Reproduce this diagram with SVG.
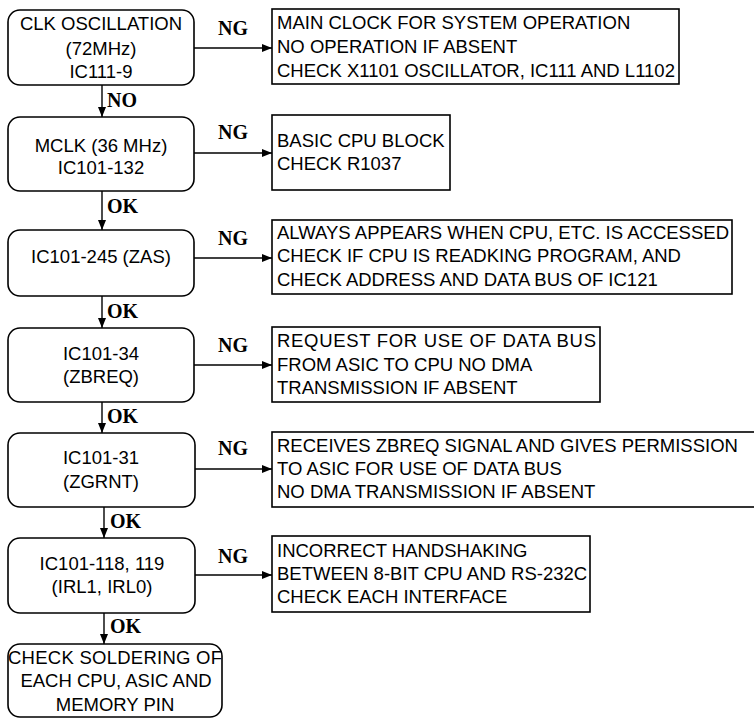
<svg xmlns="http://www.w3.org/2000/svg" width="754" height="719" viewBox="0 0 754 719">
<style>
.box{fill:#fff;stroke:#000;stroke-width:1.6}
.t{font-family:"Liberation Sans",Arial,sans-serif;font-size:18.5px;fill:#000}
.c{text-anchor:middle}
.lb{font-family:"Liberation Serif","Times New Roman",serif;font-size:20px;font-weight:bold;fill:#000}
.ln{stroke:#000;stroke-width:1.4;fill:none}
</style>
<defs>
<marker id="ah" markerUnits="userSpaceOnUse" markerWidth="11" markerHeight="8" refX="10" refY="4" orient="auto">
<path d="M0,0 L10,4 L0,8 Z" fill="#000"/>
</marker>
</defs>
<rect width="754" height="719" fill="#fff"/>

<g id="connectors">
<line class="ln" x1="102" y1="85" x2="102" y2="117" marker-end="url(#ah)"/>
<line class="ln" x1="102" y1="191" x2="102" y2="230" marker-end="url(#ah)"/>
<line class="ln" x1="102" y1="296" x2="102" y2="328" marker-end="url(#ah)"/>
<line class="ln" x1="102" y1="402" x2="102" y2="433" marker-end="url(#ah)"/>
<line class="ln" x1="104" y1="507" x2="104" y2="538" marker-end="url(#ah)"/>
<line class="ln" x1="104" y1="613" x2="104" y2="644" marker-end="url(#ah)"/>
<text class="lb" x="107" y="107">NO</text>
<text class="lb" x="107" y="213">OK</text>
<text class="lb" x="107" y="318">OK</text>
<text class="lb" x="107" y="423">OK</text>
<text class="lb" x="110" y="528">OK</text>
<text class="lb" x="110" y="633">OK</text>

<line class="ln" x1="194" y1="48" x2="272" y2="48" marker-end="url(#ah)"/>
<line class="ln" x1="194" y1="153" x2="272" y2="153" marker-end="url(#ah)"/>
<line class="ln" x1="194" y1="258" x2="272" y2="258" marker-end="url(#ah)"/>
<line class="ln" x1="194" y1="365" x2="272" y2="365" marker-end="url(#ah)"/>
<line class="ln" x1="195" y1="469" x2="272" y2="469" marker-end="url(#ah)"/>
<line class="ln" x1="195" y1="575" x2="272" y2="575" marker-end="url(#ah)"/>
<text class="lb" x="218" y="35">NG</text>
<text class="lb" x="218" y="139">NG</text>
<text class="lb" x="218" y="245">NG</text>
<text class="lb" x="218" y="352">NG</text>
<text class="lb" x="218" y="455">NG</text>
<text class="lb" x="218" y="563">NG</text>
</g>

<g id="n1">
<rect class="box" x="8" y="10" width="186" height="75" rx="12"/>
<text class="t c" x="101" y="30">CLK OSCILLATION</text>
<text class="t c" x="101" y="55">(72MHz)</text>
<text class="t c" x="101" y="78">IC111-9</text>
</g>
<g id="n2">
<rect class="box" x="8" y="117" width="186" height="74" rx="12"/>
<text class="t c" x="101" y="152">MCLK (36 MHz)</text>
<text class="t c" x="101" y="174">IC101-132</text>
</g>
<g id="n3">
<rect class="box" x="8" y="230" width="186" height="66" rx="12"/>
<text class="t c" x="101" y="263">IC101-245 (ZAS)</text>
</g>
<g id="n4">
<rect class="box" x="8" y="328" width="186" height="74" rx="12"/>
<text class="t c" x="101" y="360">IC101-34</text>
<text class="t c" x="101" y="383">(ZBREQ)</text>
</g>
<g id="n5">
<rect class="box" x="8" y="433" width="187" height="74" rx="12"/>
<text class="t c" x="101" y="464">IC101-31</text>
<text class="t c" x="101" y="488">(ZGRNT)</text>
</g>
<g id="n6">
<rect class="box" x="8" y="538" width="187" height="75" rx="12"/>
<text class="t c" x="102" y="570">IC101-118, 119</text>
<text class="t c" x="102" y="593">(IRL1, IRL0)</text>
</g>
<g id="n7">
<rect class="box" x="8" y="644" width="214" height="73" rx="12"/>
<text class="t c" x="115" y="664" textLength="214" lengthAdjust="spacing">CHECK SOLDERING OF</text>
<text class="t c" x="116" y="687">EACH CPU, ASIC AND</text>
<text class="t c" x="115" y="711">MEMORY PIN</text>
</g>

<g id="r1">
<rect class="box" x="272" y="9" width="407" height="75"/>
<text class="t" x="277" y="29">MAIN CLOCK FOR SYSTEM OPERATION</text>
<text class="t" x="277" y="53">NO OPERATION IF ABSENT</text>
<text class="t" x="277" y="77">CHECK X1101 OSCILLATOR, IC111 AND L1102</text>
</g>
<g id="r2">
<rect class="box" x="272" y="115" width="178" height="75"/>
<text class="t" x="277" y="147">BASIC CPU BLOCK</text>
<text class="t" x="277" y="170">CHECK R1037</text>
</g>
<g id="r3">
<rect class="box" x="272" y="220" width="460" height="74"/>
<text class="t" x="277" y="239">ALWAYS APPEARS WHEN CPU, ETC. IS ACCESSED</text>
<text class="t" x="277" y="262">CHECK IF CPU IS READKING PROGRAM, AND</text>
<text class="t" x="277" y="286">CHECK ADDRESS AND DATA BUS OF IC121</text>
</g>
<g id="r4">
<rect class="box" x="272" y="327" width="328" height="75"/>
<text class="t" x="277" y="347" textLength="319" lengthAdjust="spacing">REQUEST FOR USE OF DATA BUS</text>
<text class="t" x="277" y="371">FROM ASIC TO CPU NO DMA</text>
<text class="t" x="277" y="394">TRANSMISSION IF ABSENT</text>
</g>
<g id="r5">
<rect class="box" x="272" y="432" width="490" height="75"/>
<text class="t" x="277" y="452">RECEIVES ZBREQ SIGNAL AND GIVES PERMISSION</text>
<text class="t" x="277" y="475">TO ASIC FOR USE OF DATA BUS</text>
<text class="t" x="277" y="498">NO DMA TRANSMISSION IF ABSENT</text>
</g>
<g id="r6">
<rect class="box" x="272" y="536" width="318" height="76"/>
<text class="t" x="277" y="557">INCORRECT HANDSHAKING</text>
<text class="t" x="277" y="580">BETWEEN 8-BIT CPU AND RS-232C</text>
<text class="t" x="277" y="603">CHECK EACH INTERFACE</text>
</g>
</svg>
